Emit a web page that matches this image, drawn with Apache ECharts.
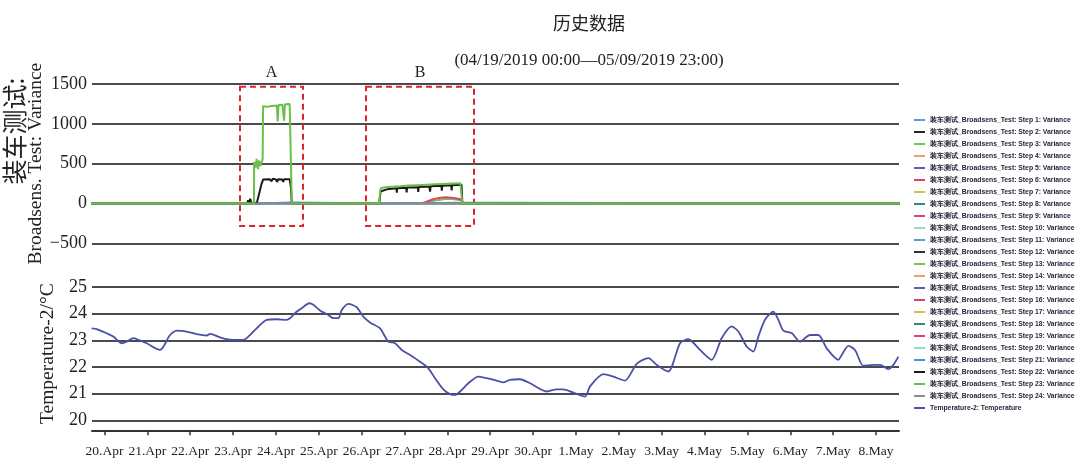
<!DOCTYPE html>
<html><head><meta charset="utf-8">
<script src="https://cdn.jsdelivr.net/npm/echarts@6/dist/echarts.min.js"></script>
<style>html,body{margin:0;padding:0;background:#fff}#chart{width:1080px;height:473px}</style>
</head><body><div id="chart"></div>
<script>
// ---- data (x = days since 04/19/2019 00:00) ----
const rangeStart = 0;          // 04/19 00:00
const rangeEnd = 20.958;       // 05/09 23:00
const tickDays = [1,2,3,4,5,6,7,8,9,10,11,12,13,14,15,16,17,18,19];
const tickLabels = ['20.Apr','21.Apr','22.Apr','23.Apr','24.Apr','25.Apr','26.Apr','27.Apr','28.Apr','29.Apr','30.Apr','1.May','2.May','3.May','4.May','5.May','6.May','7.May','8.May'];

const stepColors = ['#5b9bd5','#262626','#77c15a','#f2a06b','#5a5fb5','#e0406a','#cfc24a','#2f8f7c','#e0406a','#93d9d2','#5b9bd5','#303030','#77c15a','#f2a06b','#5a5fb5','#e0406a','#cfc24a','#2f8f7c','#e0406a','#93d9d2','#4a90d9','#1a1a1a','#6cbf4a','#8c8c8c'];

const zeroDays = [rangeStart, rangeEnd];
const zeroVals = [0, 0];

const step13Days = [0, 8.45, 8.6, 8.8, 8.95, 9.1, 9.33, 9.35, 20.958];
const step13Vals = [0, 0, 25, 45, 55, 55, 40, 0, 0];

const step19Days = [0, 8.38, 8.5, 8.65, 8.8, 8.95, 9.1, 9.25, 9.33, 9.35, 20.958];
const step19Vals = [0, 0, 20, 50, 70, 78, 72, 60, 50, 0, 0];

const step21Days = [0, 4.65, 4.68, 5.33, 5.36, 7.40, 7.43, 9.33, 9.35, 20.958];
const step21Vals = [0, 0, 12, 12, 0, 0, 10, 10, 0, 0];

const step22Days = [0,4.33,4.35,4.37,4.40,4.43,4.50,4.55,4.59,4.62,4.66,4.70,4.72,4.85,4.90,4.92,5.00,5.03,5.05,5.15,5.17,5.19,5.32,5.35,5.37,7.41,7.44,7.47,7.6,7.81,7.82,7.83,8.04,8.05,8.06,8.31,8.32,8.33,8.58,8.595,8.61,8.86,8.87,8.88,9.09,9.1,9.11,9.33,9.35,20.958];
const step22Vals = [0,0,40,10,60,0,10,0,20,150,240,300,310,305,280,310,300,270,305,300,270,305,305,200,0,0,150,175,180,190,135,192,197,140,200,205,145,207,213,150,215,222,160,224,228,165,230,235,0,0];

const step23Days = [0,4.488,4.49,4.52,4.55,4.58,4.61,4.64,4.67,4.69,4.70,4.80,4.90,5.02,5.04,5.06,5.15,5.19,5.21,5.32,5.35,5.37,7.41,7.43,7.46,7.55,7.7,7.9,8.1,8.3,8.5,8.7,8.9,9.1,9.3,9.33,9.35,20.958];
const step23Vals = [0,0,520,450,560,430,540,470,520,560,1220,1215,1225,1230,1030,1235,1240,1040,1245,1250,1250,0,0,160,195,205,210,215,225,230,235,240,245,250,255,250,0,0];

const tempDays = [0.70,0.817,1.206,1.401,1.517,1.673,1.789,1.984,2.295,2.373,2.528,2.684,2.917,3.150,3.384,3.462,3.695,3.850,4.006,4.239,4.317,4.550,4.784,5.017,5.250,5.328,5.445,5.600,5.779,5.872,6.028,6.222,6.339,6.456,6.534,6.689,6.884,7.039,7.195,7.428,7.545,7.622,7.778,7.934,8.128,8.361,8.556,8.711,8.906,9.061,9.178,9.295,9.489,9.722,9.917,10.150,10.306,10.461,10.694,10.928,11.317,11.550,11.705,11.939,12.211,12.328,12.639,12.872,13.144,13.417,13.689,13.883,14.155,14.428,14.622,14.894,15.167,15.400,15.633,15.789,15.983,16.139,16.255,16.411,16.605,16.722,16.839,17.033,17.227,17.461,17.655,17.850,18.122,18.200,18.355,18.511,18.705,18.938,19.094,19.288,19.405,19.522];
const tempVals = [23.45,23.42,23.14,22.89,22.95,23.08,23.02,22.89,22.64,22.76,23.2,23.36,23.33,23.23,23.18,23.24,23.11,23.04,23.02,23.02,23.08,23.45,23.77,23.79,23.77,23.83,24.02,24.2,24.39,24.33,24.12,23.95,23.83,23.83,24.14,24.37,24.24,23.89,23.67,23.45,23.14,22.95,22.89,22.64,22.45,22.2,21.95,21.58,21.16,20.98,20.95,21.08,21.39,21.64,21.58,21.49,21.42,21.52,21.54,21.39,21.08,21.16,21.16,21.04,20.89,21.27,21.73,21.64,21.49,22.12,22.33,22.08,21.83,22.89,23.04,22.64,22.27,23.08,23.52,23.33,22.77,22.58,23.14,23.77,24.08,23.77,23.36,23.27,22.95,23.2,23.2,22.7,22.27,22.45,22.79,22.64,22.04,22.08,22.08,21.92,22.08,22.39];

// annotation boxes (days, variance)
const boxNames = ['A', 'B'];
const boxX = [[4.161, 5.631], [7.101, 9.621]];
const boxY = [-283, 1464];

const X_MIN = 0.708, X_MAX = 19.537;
const serif = "'Liberation Serif','Times New Roman',serif";
const cjk = "'Noto Sans CJK SC',sans-serif";

const zip = (xs, ys) => xs.map((x, i) => [x, ys[i]]);
const stepData = {13:[step13Days,step13Vals],19:[step19Days,step19Vals],21:[step21Days,step21Vals],22:[step22Days,step22Vals],23:[step23Days,step23Vals]};

const series = [];
const legendNames = [];
for (let i = 1; i <= 24; i++) {
  const name = '装车测试_Broadsens_Test: Step ' + i + ': Variance';
  legendNames.push(name);
  const d = stepData[i] || [zeroDays, zeroVals];
  const s = {
    name, type: 'line', xAxisIndex: 0, yAxisIndex: 0,
    data: zip(d[0], d[1]), symbol: 'none', showSymbol: false,
    color: stepColors[i-1], lineStyle: {width: 2, color: stepColors[i-1]},
    z: i === 23 ? 3 : 2, silent: true
  };
  if (i === 1) {
    s.markArea = {
      silent: true,
      itemStyle: {color: 'rgba(0,0,0,0)', borderColor: '#d9262c', borderWidth: 2, borderType: [6, 4]},
      label: {show: true, position: 'top', distance: 5, fontFamily: serif, fontSize: 16, color: '#222'},
      data: boxNames.map((n, k) => [{name: n, coord: [boxX[k][0], boxY[1]]}, {coord: [boxX[k][1], boxY[0]]}])
    };
  }
  series.push(s);
}
const tempName = 'Temperature-2: Temperature';
legendNames.push(tempName);
series.push({
  name: tempName, type: 'line', xAxisIndex: 1, yAxisIndex: 1,
  data: zip(tempDays, tempVals), symbol: 'none', showSymbol: false, smooth: 0.25,
  color: '#4b50a6', lineStyle: {width: 1.8, color: '#4b50a6'}, silent: true
});

const chart = echarts.init(document.getElementById('chart'), null, {renderer: 'canvas'});
chart.setOption({
  animation: false,
  backgroundColor: '#fff',
  title: [
    {text: '历史数据', left: 584, top: 9, textAlign: 'center', textStyle: {fontFamily: cjk, fontSize: 18, fontWeight: 'normal', color: '#222'}},
    {text: '(04/19/2019 00:00—05/09/2019 23:00)', left: 584, top: 47, textAlign: 'center', textStyle: {fontFamily: serif, fontSize: 17, fontWeight: 'normal', color: '#222'}}
  ],
  graphic: [{
    type: 'text', x: 14, y: 131, rotation: Math.PI / 2,
    style: {text: '装车测试:', font: "25px 'Noto Sans CJK SC'", fill: '#222', align: 'center', verticalAlign: 'middle'}
  }],
  legend: {
    orient: 'vertical', left: 909, top: 111, itemWidth: 11, itemHeight: 2, itemGap: 4, icon: 'rect',
    textStyle: {fontSize: 6.8, fontWeight: 'bold', fontFamily: "'Liberation Sans Narrow','Liberation Sans',sans-serif", color: '#26263a', lineHeight: 8, height: 8},
    data: legendNames, selectedMode: false
  },
  grid: [
    {left: 92, right: 181, top: 84, height: 159.3},
    {left: 92, right: 181, top: 287, height: 133.3}
  ],
  xAxis: [
    {type: 'value', gridIndex: 0, min: X_MIN, max: X_MAX, show: false},
    {type: 'value', gridIndex: 1, min: X_MIN, max: X_MAX, offset: 10,
      axisLine: {show: true, onZero: false, lineStyle: {color: '#333', width: 2}},
      axisTick: {show: true, length: 5, lineStyle: {color: '#333', width: 1.5}, customValues: tickDays},
      axisLabel: {customValues: tickDays, margin: 14, fontFamily: serif, fontSize: 13.5, color: '#222',
        formatter: v => tickLabels[tickDays.indexOf(Math.round(v))] || ''},
      splitLine: {show: false}}
  ],
  yAxis: [
    {type: 'value', gridIndex: 0, min: -500, max: 1500, interval: 500,
      name: 'Broadsens. Test: Variance', nameLocation: 'middle', nameRotate: 90, nameGap: 46, nameMoveOverlap: false,
      nameTextStyle: {fontFamily: serif, fontSize: 19.5, color: '#222'},
      axisLine: {show: false}, axisTick: {show: false},
      axisLabel: {fontFamily: serif, fontSize: 18, color: '#222', margin: 5, formatter: v => String(v).replace('-', '\u2212')},
      splitLine: {lineStyle: {color: '#4a4a4a', width: 2}}},
    {type: 'value', gridIndex: 1, min: 20, max: 25, interval: 1,
      name: 'Temperature-2/°C', nameLocation: 'middle', nameRotate: 90, nameGap: 34, nameMoveOverlap: false,
      nameTextStyle: {fontFamily: serif, fontSize: 19.5, color: '#222'},
      axisLine: {show: false}, axisTick: {show: false},
      axisLabel: {fontFamily: serif, fontSize: 18, color: '#222', margin: 5},
      splitLine: {lineStyle: {color: '#4a4a4a', width: 2}}}
  ],
  series
});
</script></body></html>
